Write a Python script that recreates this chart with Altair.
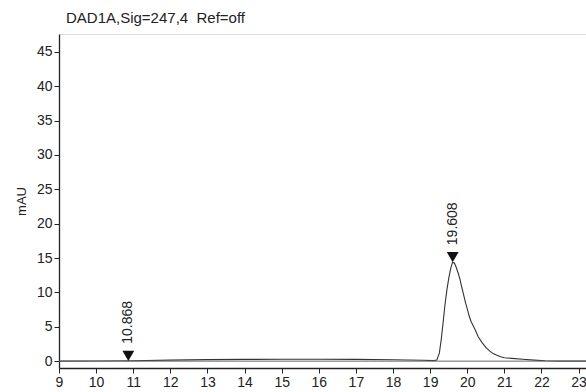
import altair as alt
import pandas as pd

# Chromatogram signal (retention time in min, absorbance in mAU)
times = [9.0, 10.0, 11.0, 12.0, 13.0, 14.0, 15.0, 16.0, 17.0, 18.0, 18.8, 19.1,
         19.18, 19.25, 19.30, 19.35, 19.40, 19.45, 19.50, 19.55, 19.60, 19.65,
         19.70, 19.75, 19.80, 19.85, 19.90, 19.95, 20.00, 20.05, 20.10, 20.20,
         20.30, 20.40, 20.50, 20.60, 20.70, 20.80, 20.90, 21.00, 21.20, 21.50,
         21.80, 22.10, 22.50, 23.20]
mau = [0.0, 0.02, 0.05, 0.15, 0.22, 0.25, 0.27, 0.27, 0.25, 0.2, 0.12, 0.08,
       0.15, 1.2, 3.2, 5.6, 8.2, 10.3, 12.0, 13.4, 14.35, 14.3,
       13.7, 12.9, 12.0, 10.8, 9.7, 8.6, 7.6, 6.6, 5.8, 4.7,
       3.5, 2.7, 2.0, 1.5, 1.1, 0.85, 0.65, 0.5, 0.4, 0.27,
       0.15, 0.05, 0.0, 0.0]

# Integrated peaks: retention time labels and marker heights
peak_rt = [10.868, 19.608]
peak_h = [0.05, 14.4]
peak_lbl = ["10.868", "19.608"]

x_ticks = list(range(9, 24))
y_ticks = list(range(0, 50, 5))

FONT = "Liberation Sans"
INK = "#222222"

sig = pd.DataFrame({"t": times, "v": mau})
pk = pd.DataFrame({"t": peak_rt, "v": peak_h, "lbl": peak_lbl})
base = pd.DataFrame({"v": [0.0]})

xs = alt.Scale(domain=[9, 23.2], nice=False, zero=False)
ys = alt.Scale(domain=[-1.0, 47.6], nice=False, zero=False)

xax = alt.Axis(values=x_ticks, title=None, grid=False, tickSize=5, labelPadding=2,
               labelFontSize=14, labelFont=FONT, labelColor=INK, domainColor=INK,
               tickColor=INK, domainWidth=1.3, labelFlush=False, labelOverlap=False,
               format="d")
yax = alt.Axis(values=y_ticks, title="mAU", grid=False, tickSize=5, labelPadding=2,
               labelFontSize=14, labelFont=FONT, labelColor=INK, domainColor=INK,
               tickColor=INK, domainWidth=1.3, titleFont=FONT, titleFontSize=13,
               titleFontWeight="normal", titleColor=INK, titlePadding=8,
               labelOverlap=False, format="d")

X = alt.X("t:Q", scale=xs, axis=xax)
Y = alt.Y("v:Q", scale=ys, axis=yax)

line = alt.Chart(sig).mark_line(color="#333333", strokeWidth=1.1).encode(x=X, y=Y)

baseline = alt.Chart(base).mark_rule(color="#666666", strokeWidth=1).encode(y=Y)

marks = alt.Chart(pk).mark_point(shape="triangle-down", filled=True, size=140,
                                 color="#111111", opacity=1, yOffset=-5).encode(x=X, y=Y)

labels = alt.Chart(pk).mark_text(angle=270, align="left", baseline="middle",
                                 fontSize=14, font=FONT, color=INK, yOffset=-17).encode(
    x=X, y=Y, text="lbl:N",
)

chart = alt.layer(line, baseline, marks, labels).properties(
    width=527,
    height=334,
    padding={"left": 59, "top": 34, "right": 0, "bottom": 24},
    autosize=alt.AutoSizeParams(type="none"),
    title=alt.TitleParams("DAD1A,Sig=247,4 \u00a0Ref=off", anchor="start", frame="group",
                          dx=7, offset=8, fontSize=15, font=FONT, fontWeight="normal",
                          color=INK),
).configure_view(stroke=INK, strokeWidth=1).configure(background="white")

chart.save("out.html", embed_options={"renderer": "svg", "actions": False})
